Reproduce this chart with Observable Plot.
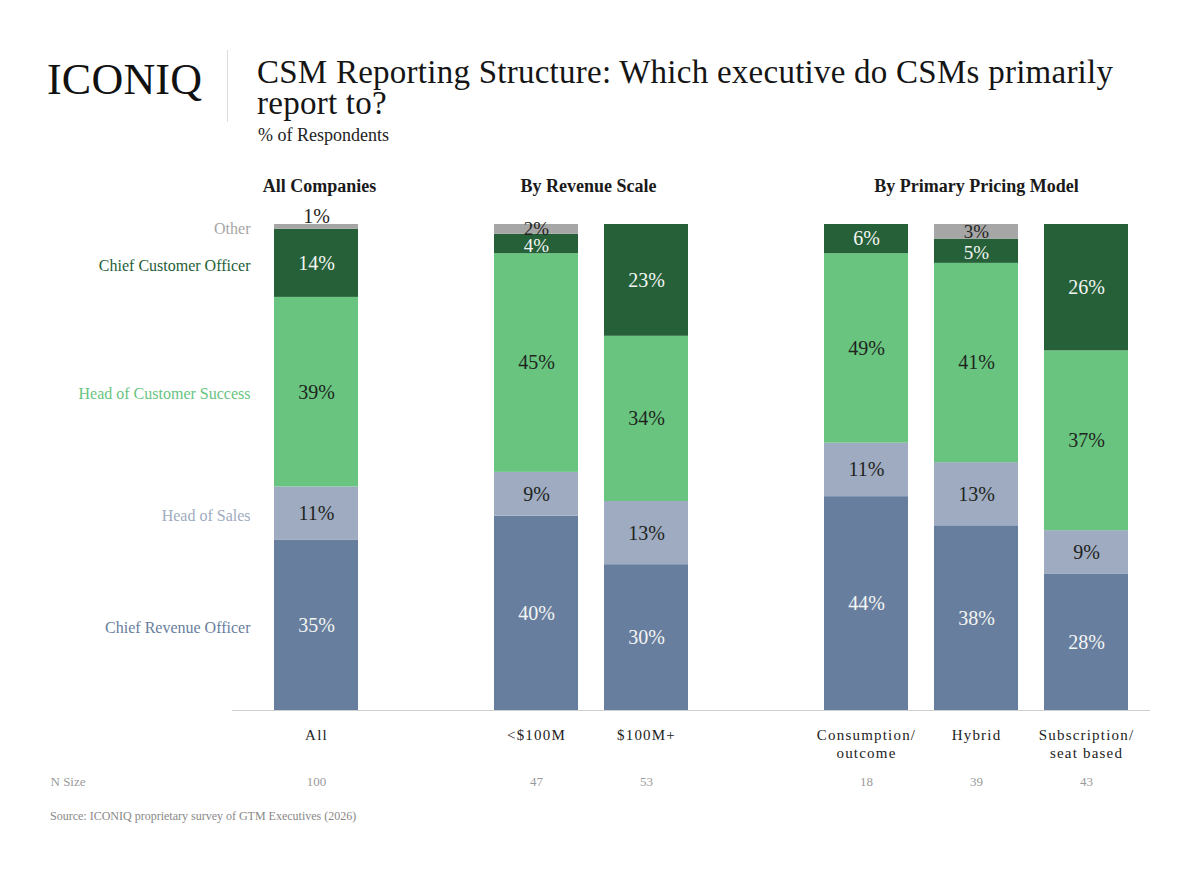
<!DOCTYPE html>
<html>
<head>
<meta charset="utf-8">
<script src="https://cdn.jsdelivr.net/npm/d3@7"></script>
<script src="https://cdn.jsdelivr.net/npm/@observablehq/plot@0.6"></script>
<style>
  html, body { margin: 0; padding: 0; background: #fff; }
  #page { position: relative; width: 1200px; height: 870px; font-family: "Liberation Serif", serif; color: #111; overflow: hidden; }
  .abs { position: absolute; white-space: nowrap; }
  #logo { left: 47px; top: 58px; font-size: 44px; line-height: 44px; color: #111; letter-spacing: 0.2px; }
  #divider { left: 227px; top: 50px; width: 1px; height: 72px; background: #dcdcdc; }
  #title { left: 257px; top: 57px; font-size: 33px; line-height: 31px; color: #151515; letter-spacing: 0.25px; }
  #subtitle { left: 258px; top: 126px; font-size: 18px; line-height: 18px; color: #222; }
  #chart { left: 0; top: 160px; }
  #source { left: 50px; top: 810px; font-size: 12px; line-height: 12px; color: #888; }
</style>
</head>
<body>
<div id="page">
  <div id="logo" class="abs">ICONIQ</div>
  <div id="divider" class="abs"></div>
  <div id="title" class="abs">CSM Reporting Structure: Which executive do CSMs primarily<br>report to?</div>
  <div id="subtitle" class="abs">% of Respondents</div>
  <div id="chart" class="abs"></div>
  <div id="source" class="abs">Source: ICONIQ proprietary survey of GTM Executives (2026)</div>
</div>
<script>
// ---- Data ----
const groups = ["All", "<$100M", "$100M+", "Consumption/\noutcome", "Hybrid", "Subscription/\nseat based"];
const nSize = [100, 47, 53, 18, 39, 43];
const sections = ["All Companies", "By Revenue Scale", "By Primary Pricing Model"];
const roles = ["Chief Revenue Officer", "Head of Sales", "Head of Customer Success", "Chief Customer Officer", "Other"];
const roleColors = ["#687e9e", "#9eabc0", "#68c47f", "#256038", "#a6a6a6"];

const chiefRevenueOfficer   = [35, 40, 30, 44, 38, 28];
const headOfSales           = [11,  9, 13, 11, 13,  9];
const headOfCustomerSuccess = [39, 45, 34, 39, 41, 37];
const chiefCustomerOfficer  = [14,  4, 23,  6,  5, 26];
const other                 = [ 1,  2,  0,  0,  3,  0];

// The reference prints "49%" on the Consumption/outcome Head of Customer Success bar,
// although that bar is drawn at about 39% of the height.
const printedLabelOverrides = { "Consumption/\noutcome|Head of Customer Success": "49%" };

// ---- Table for Plot ----
const series = [chiefRevenueOfficer, headOfSales, headOfCustomerSuccess, chiefCustomerOfficer, other];
const data = [];
groups.forEach((g, i) => {
  roles.forEach((r, j) => {
    data.push({ group: g, role: r, value: series[j][i] });
  });
});
const labelOf = d => printedLabelOverrides[d.group + "|" + d.role] ?? `${d.value}%`;
const darkText = new Set(["Head of Sales", "Head of Customer Success", "Other"]);

// x domain with two empty spacer slots between sections
const xDomain = [groups[0], " ", groups[1], groups[2], "  ", groups[3], groups[4], groups[5]];

const stackOpts = { x: "group", y: "value", z: "role", order: roles };
const big = d => d.value > 5;
const small = d => d.value > 1 && d.value <= 5;

const chart = Plot.plot({
  width: 1200,
  height: 640,
  marginTop: 64,
  marginBottom: 90,
  marginLeft: 232,
  marginRight: 50,
  style: { fontFamily: "Liberation Serif, serif", fontSize: "16px", background: "transparent", overflow: "visible" },
  x: { domain: xDomain, paddingInner: 0.236, paddingOuter: 0.29, align: 0.656, axis: null },
  y: { domain: [0, 100], axis: null },
  color: { domain: roles, range: roleColors },
  marks: [
    Plot.ruleY([0], { stroke: "#cfcfcf", strokeWidth: 1 }),
    Plot.barY(data, Plot.stackY({ ...stackOpts, fill: "role" })),
    // value labels, dark text
    Plot.text(data, Plot.stackY({
      ...stackOpts,
      text: d => (big(d) && darkText.has(d.role)) ? labelOf(d) : "",
      fill: "#1f2420", fontSize: 20
    })),
    // value labels, light text
    Plot.text(data, Plot.stackY({
      ...stackOpts,
      text: d => (big(d) && !darkText.has(d.role)) ? labelOf(d) : "",
      fill: "#f3f5f3", fontSize: 20
    })),
    // labels in thin segments
    Plot.text(data, Plot.stackY({
      ...stackOpts,
      text: d => (small(d) && darkText.has(d.role)) ? labelOf(d) : "",
      fill: "#1f2420", fontSize: 19
    })),
    Plot.text(data, Plot.stackY({
      ...stackOpts,
      text: d => (small(d) && !darkText.has(d.role)) ? labelOf(d) : "",
      fill: "#f3f5f3", fontSize: 19, dy: 2
    })),
    // tiny segments: label sits on top of the bar
    Plot.text(data, Plot.stackY2({
      ...stackOpts,
      text: d => d.value === 1 ? labelOf(d) : "",
      fill: "#1f2420", fontSize: 20, dy: -8
    })),
    // row labels to the left of the "All" bar
    Plot.text(data, Plot.stackY({
      ...stackOpts,
      text: d => d.group === groups[0] ? d.role : "",
      fill: "role", textAnchor: "end", dx: -66, dy: 2, fontSize: 16
    })),
    // section headers
    Plot.text([sections[0]], { x: () => groups[0], text: d => d, frameAnchor: "top", dx: 3, dy: -45, fontSize: 18, fontWeight: "bold", fill: "#1a1a1a" }),
    Plot.text([sections[1]], { x: () => groups[1], text: d => d, frameAnchor: "top", dx: 52, dy: -45, fontSize: 18, fontWeight: "bold", fill: "#1a1a1a" }),
    Plot.text([sections[2]], { x: () => groups[4], text: d => d, frameAnchor: "top", dx: 0, dy: -45, fontSize: 18, fontWeight: "bold", fill: "#1a1a1a" }),
    // category labels under the bars
    Plot.text(groups, {
      x: d => d, text: d => d, frameAnchor: "bottom", lineAnchor: "top",
      dy: 17, lineHeight: 1.2, fontSize: 15, fill: "#222", className: "xlab"
    }),
    // N size row
    Plot.text(["N Size"], { text: d => d, frameAnchor: "bottom-left", textAnchor: "start", dx: -182, dy: 75, fontSize: 13, fill: "#9a9a9a" }),
    Plot.text(groups, { x: d => d, text: (d, i) => String(nSize[i]), frameAnchor: "bottom", dy: 75, fontSize: 13, fill: "#9a9a9a" })
  ]
});
document.getElementById("chart").appendChild(chart);
const st = document.createElement("style");
st.textContent = ".xlab text { letter-spacing: 1.2px; }";
document.head.appendChild(st);
</script>
</body>
</html>
